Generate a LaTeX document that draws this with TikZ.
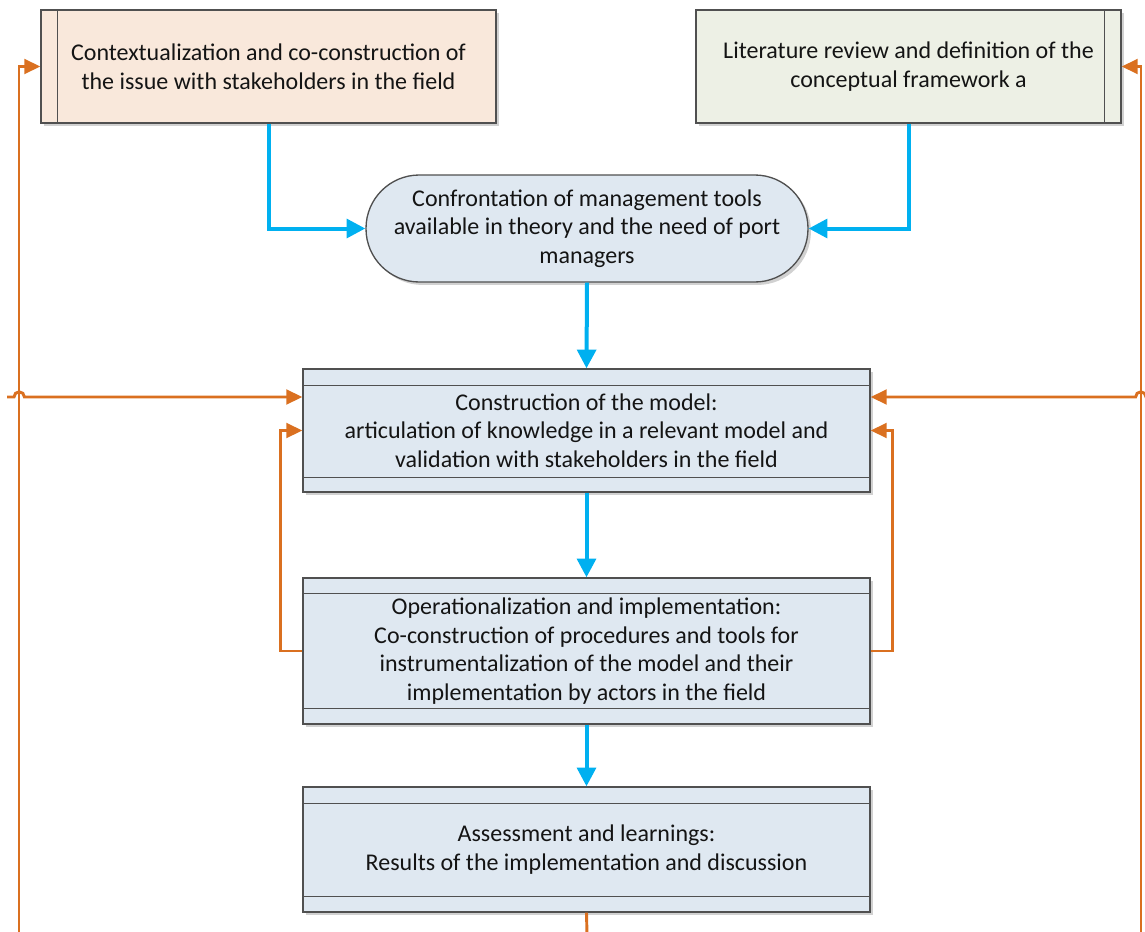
\documentclass[tikz,border=0pt]{standalone}
\usepackage{fontspec}
\setmainfont{Carlito}
\usetikzlibrary{arrows.meta,shadows,calc}
\definecolor{flowblue}{HTML}{00B0F0}
\definecolor{loopor}{HTML}{DA7020}
\definecolor{edgegrey}{HTML}{505050}
\definecolor{peach}{HTML}{F9E8DB}
\definecolor{sage}{HTML}{EDF0E5}
\definecolor{paleblue}{HTML}{DFE8F1}
\definecolor{ink}{HTML}{141414}
\tikzset{
  boxbase/.style={draw=edgegrey, line width=1pt, align=center, text=ink,
    font=\fontsize{18pt}{21.5pt}\selectfont,
    drop shadow={shadow xshift=2.2pt, shadow yshift=-2.2pt, fill=black!18, opacity=1}},
  sidebox/.style={boxbase, rectangle, minimum height=84.75pt},
  stagebox/.style={boxbase, rectangle, fill=paleblue, minimum width=425.25pt},
  pillbox/.style={boxbase, rectangle, rounded corners=40pt, fill=paleblue,
    minimum width=331.5pt, minimum height=80.25pt},
  divider/.style={draw=edgegrey, line width=1pt},
  flow/.style={draw=flowblue, line width=3pt,
    -{Triangle[length=14pt,width=14pt]}},
  feedback/.style={draw=loopor, line width=2.2pt,
    -{Triangle[length=12pt,width=11pt]}},
  feedline/.style={draw=loopor, line width=2.2pt}
}
\begin{document}
\begin{tikzpicture}[x=0.75pt,y=-0.75pt]
\useasboundingbox (0,0) rectangle (1145,931);

% source boxes
\node[sidebox, fill=peach, minimum width=341.25pt] (ctx) at (268.5,66.5)
  {Contextualization and co-construction of\\the issue with stakeholders in the field};
\node[sidebox, fill=sage, minimum width=318.75pt] (lit) at (908.5,66.5)
  {Literature review and definition of the\\conceptual framework a};
\draw[divider] ([xshift=12.75pt]ctx.north west) -- ([xshift=12.75pt]ctx.south west);
\draw[divider] ([xshift=-12.75pt]lit.north east) -- ([xshift=-12.75pt]lit.south east);

% confrontation
\node[pillbox] (conf) at (587,228.5)
  {Confrontation of management tools\\available in theory and the need of port\\managers};

% stages
\node[stagebox, minimum height=92.25pt] (model) at (586.5,430.5)
  {Construction of the model:\\articulation of knowledge in a relevant model and\\validation with stakeholders in the field};
\node[stagebox, minimum height=109.5pt] (ops) at (586.5,651)
  {Operationalization and implementation:\\Co-construction of procedures and tools for\\instrumentalization of the model and their\\implementation by actors in the field};
\node[stagebox, minimum height=93.75pt] (assess) at (586.5,849.5)
  {Assessment and learnings:\\Results of the implementation and discussion};

\foreach \b/\t/\u in {model/12.75pt/11.25pt, ops/12pt/12pt, assess/12.75pt/12pt}{
  \draw[divider] ([yshift=-\t]\b.north west) -- ([yshift=-\t]\b.north east);
  \draw[divider] ([yshift=\u]\b.south west) -- ([yshift=\u]\b.south east);
}

% main flow
\draw[flow] (ctx.south) |- (conf.west);
\draw[flow] (lit.south) |- (conf.east);
\draw[flow] (conf.south) -- (model.north);
\draw[flow] (model.south) -- (ops.north);
\draw[flow] (ops.south) -- (assess.north);

% feedback loops
\coordinate (outlow) at (587,935);
\coordinate (leftlow) at (19,935);
\coordinate (rightlow) at (1141,935);
\coordinate (lefthz) at (7,397);
\coordinate (righthz) at (1147,397);
\draw[feedline] (assess.south) -- (outlow);
\draw[feedback] (leftlow) |- (ctx.west);
\draw[feedback] (rightlow) |- (lit.east);
\draw[feedback] (lefthz) -- ++(7,0) arc[start angle=180, end angle=0, radius=3.9pt]
  -- (lefthz -| model.west);
\draw[feedback] (righthz) -- ++(-1,0) arc[start angle=0, end angle=180, radius=3.9pt]
  -- (righthz -| model.east);
\draw[feedback] (ops.west) -- ++(-22,0) |- (model.west);
\draw[feedback] (ops.east) -- ++(22,0) |- (model.east);
\end{tikzpicture}
\end{document}
